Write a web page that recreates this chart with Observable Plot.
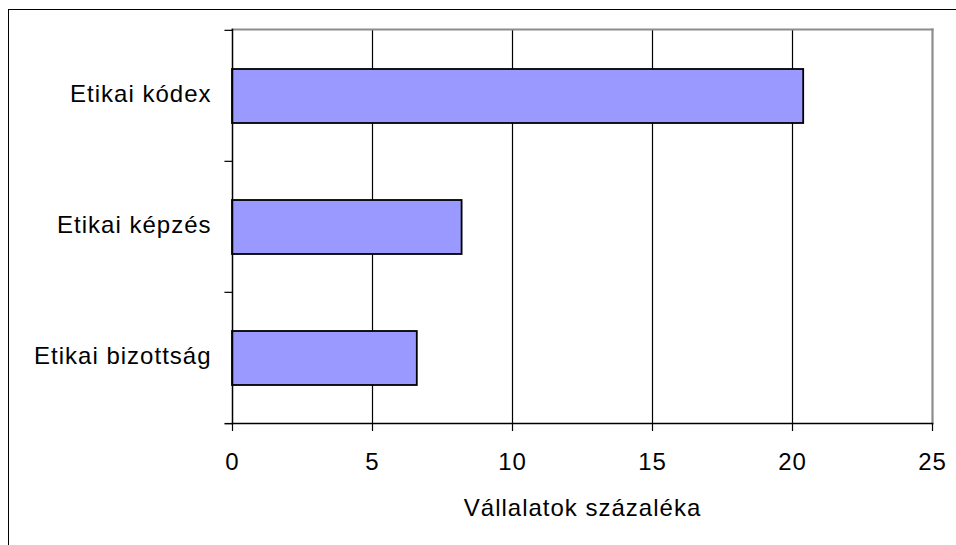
<!DOCTYPE html>
<html>
<head>
<meta charset="utf-8">
<script src="https://cdn.jsdelivr.net/npm/d3@7"></script>
<script src="https://cdn.jsdelivr.net/npm/@observablehq/plot@0.6"></script>
<style>
  html, body { margin: 0; padding: 0; background: #fff; overflow: hidden; }
  #wrap { position: relative; width: 956px; height: 545px; }
  #frame { position: absolute; left: 8px; top: 9px; width: 1000px; height: 600px; border: 1.5px solid #000; box-sizing: border-box; }
  #chart { position: absolute; left: 0; top: 0; }
  svg text { letter-spacing: 1px; }
</style>
</head>
<body>
<div id="wrap"><div id="frame"></div><div id="chart"></div></div>
<script>
const categories = ["Etikai kódex", "Etikai képzés", "Etikai bizottság"];
const values = [20.4, 8.2, 6.6];
const xTicks = [0, 5, 10, 15, 20, 25];
const gridTicks = [5, 10, 15, 20];
const xTitle = "Vállalatok százaléka";

const data = categories.map((c, i) => ({category: c, value: values[i]}));

const W = 956, H = 545;
const mL = 232, mR = 24, mT = 29, mB = 122;
const bandH = (H - mT - mB) / categories.length;

const chart = Plot.plot({
  width: W,
  height: H,
  marginLeft: mL,
  marginRight: mR,
  marginTop: mT,
  marginBottom: mB,
  style: {fontFamily: "'Liberation Sans', Arial, sans-serif", fontSize: "24px", color: "#000", background: "transparent", overflow: "visible"},
  x: {domain: [0, 25], ticks: xTicks},
  y: {domain: categories, padding: 0},
  marks: [
    // gridlines
    Plot.ruleX(gridTicks, {stroke: "#000", strokeWidth: 1.2}),
    // top and right plot border (gray)
    Plot.frame({anchor: "top", stroke: "#8c8c8c", strokeWidth: 2.2}),
    Plot.frame({anchor: "right", stroke: "#8c8c8c", strokeWidth: 2.2}),
    // bars
    Plot.barX(data, {y: "category", x: "value", fill: "#9999ff", stroke: "#000", strokeWidth: 1.8, insetTop: 39, insetBottom: 38}),
    // left and bottom axis lines
    Plot.frame({anchor: "left", stroke: "#000", strokeWidth: 1.5}),
    Plot.frame({anchor: "bottom", stroke: "#000", strokeWidth: 1.5}),
    // category boundary ticks on y axis
    Plot.ruleY(categories, {y: d => d, x1: -0.27, x2: 0, dy: -bandH / 2, stroke: "#000", strokeWidth: 1.2, clip: false}),
    Plot.ruleY(categories.slice(-1), {y: d => d, x1: -0.27, x2: 0, dy: bandH / 2, stroke: "#000", strokeWidth: 1.5, clip: false}),
    // axes
    Plot.axisX({ticks: xTicks, tickSize: 8, tickPadding: 21, tickFormat: d => String(d), label: null, stroke: "#000", strokeWidth: 1.2}),
    Plot.axisY({tickSize: 0, tickPadding: 21, label: null, dy: -1.5}),
    // axis title
    Plot.text([xTitle], {frameAnchor: "bottom", text: d => d, dy: 75, fontSize: 24, textAnchor: "middle", lineAnchor: "top"})
  ]
});
document.getElementById("chart").appendChild(chart);
</script>
</body>
</html>
